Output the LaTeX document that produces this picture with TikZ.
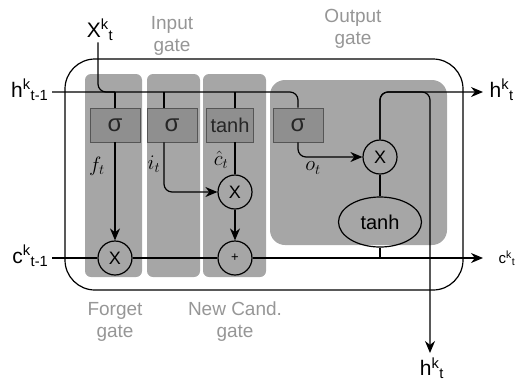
\documentclass[tikz,border=0pt]{standalone}
\usepackage{fontspec}
\setmainfont{Liberation Sans}
\usetikzlibrary{arrows.meta,shapes.geometric,positioning}
\definecolor{lstmPanel}{RGB}{166,166,166}
\definecolor{lstmBox}{RGB}{143,143,143}
\definecolor{lstmEdge}{RGB}{85,85,85}
\definecolor{lstmLabel}{RGB}{150,150,150}
\newcommand{\supsub}[2]{\textsuperscript{#1}\textsubscript{#2}}

\begin{document}
\begin{tikzpicture}[x=1pt,y=-1pt,line width=1.2pt,
  >={Stealth[length=12pt,width=10pt]},
  panel/.style={fill=lstmPanel,rounded corners=#1},
  gatebox/.style={rectangle,draw=lstmEdge,fill=lstmBox,line width=0.8pt,
                  minimum width=50pt,minimum height=34pt,inner sep=0pt,
                  text=black!85,font=\fontsize{24}{26}\selectfont},
  op/.style={circle,draw,minimum size=34pt,inner sep=0pt,
             font=\fontsize{18}{20}\selectfont},
  gatelbl/.style={text=lstmLabel,align=center,
                  font=\fontsize{19}{22}\selectfont},
  iolbl/.style={font=\fontsize{21}{23}\selectfont,inner sep=1pt},
  mlbl/.style={font=\fontsize{21}{23}\selectfont,inner sep=0pt},
  wire/.style={rounded corners=8pt}
]
\useasboundingbox (0,0) rectangle (522,384);

% Gate panels
\fill[panel=6pt] (85,74) rectangle (142,277);
\fill[panel=6pt] (147,74) rectangle (200,277);
\fill[panel=6pt] (203,74) rectangle (266,277);
\fill[panel=15pt] (270,80) rectangle (447,245);

% Cell border
\draw[rounded corners=30pt] (65,59) rectangle (463,290);

% Gate boxes and operators
\node[gatebox] (fg) at (115,125) {σ};
\node[gatebox] (ig) at (172,125) {σ};
\node[gatebox,minimum width=47pt,font=\fontsize{20}{22}\selectfont] (tg) at (230,125) {tanh};
\node[gatebox] (og) at (298,125) {σ};

\node[op] (fx) at (115,258) {X};
\node[op] (ix) at (235,192) {X};
\node[op,font=\fontsize{13}{15}\selectfont] (px) at (235,258) {+};
\node[op] (ox) at (380,157) {X};
\node[ellipse,draw,minimum width=83pt,minimum height=50pt,inner sep=0pt,
      font=\fontsize{20}{22}\selectfont] (te) at (380,222) {tanh};

% Inputs and outputs
\node[iolbl] (xin) at (100,30) {X\supsub{k}{t}};
\node[iolbl,anchor=east] (hin) at (50,90) {h\supsub{k}{t-1}};
\node[iolbl,anchor=east] (cin) at (50,256) {c\supsub{k}{t-1}};
\coordinate (hend) at (483,92);
\coordinate (cend) at (483,258);
\coordinate (hdown) at (430,353);
\node[iolbl,anchor=west] (hout) at (488,90) {h\supsub{k}{t}};
\node[iolbl,anchor=west,font=\fontsize{15}{17}\selectfont] (cout) at (497,258) {c\supsub{k}{t}};
\node[iolbl,anchor=north] (hbot) at (432,356) {h\supsub{k}{t}};

% Gate labels
\node[gatelbl] (inlbl) at (172,36) {Input\\gate};
\node[gatelbl] (outlbl) at (353,29) {Output\\gate};
\node[gatelbl] (fglbl) at (115,322) {Forget\\gate};
\node[gatelbl] (nclbl) at (235,322) {New Cand.\\gate};

% Signal names
\node[mlbl] (ft) at (97,166) {$f_t$};
\node[mlbl] (it) at (154,164) {$i_t$};
\node[mlbl] (ct) at (221,160) {$\hat{c}_t$};
\node[mlbl] (ot) at (313,168) {$o_t$};

% Hidden state and input wires
\draw[wire] (52,92) -| (og.north);
\draw[wire] (xin.south -| 98,0) |- (fg.north |- 0,92);
\draw (fg.north) -- ++(0,-16);
\draw ([xshift=-8pt]ig.north) -- ++(0,-16);
\draw ([xshift=5pt]tg.north) -- ++(0,-16);

% Gate outputs
\draw[->] (fg.south) -- (fx.north);
\draw[->,wire] ([xshift=-8pt]ig.south) |- (ix.west);
\draw ([xshift=5pt]tg.south) -- (ix.north);
\draw[->] (ix.south) -- (px.north);
\draw[->,wire] (og.south) |- (ox.west);

% Cell state
\draw (52,258) -- (fx.west);
\draw (fx.east) -- (px.west);
\draw[->] (px.east) -- (cend);
\draw (ox.south) -- (te.north);
\draw (te.south) -- (te.south |- cend);

% New hidden state
\draw[->,wire] (ox.north) |- (hend);
\draw[->,wire] (ox.north) |- (hdown |- hend) -- (hdown);
\end{tikzpicture}
\end{document}
